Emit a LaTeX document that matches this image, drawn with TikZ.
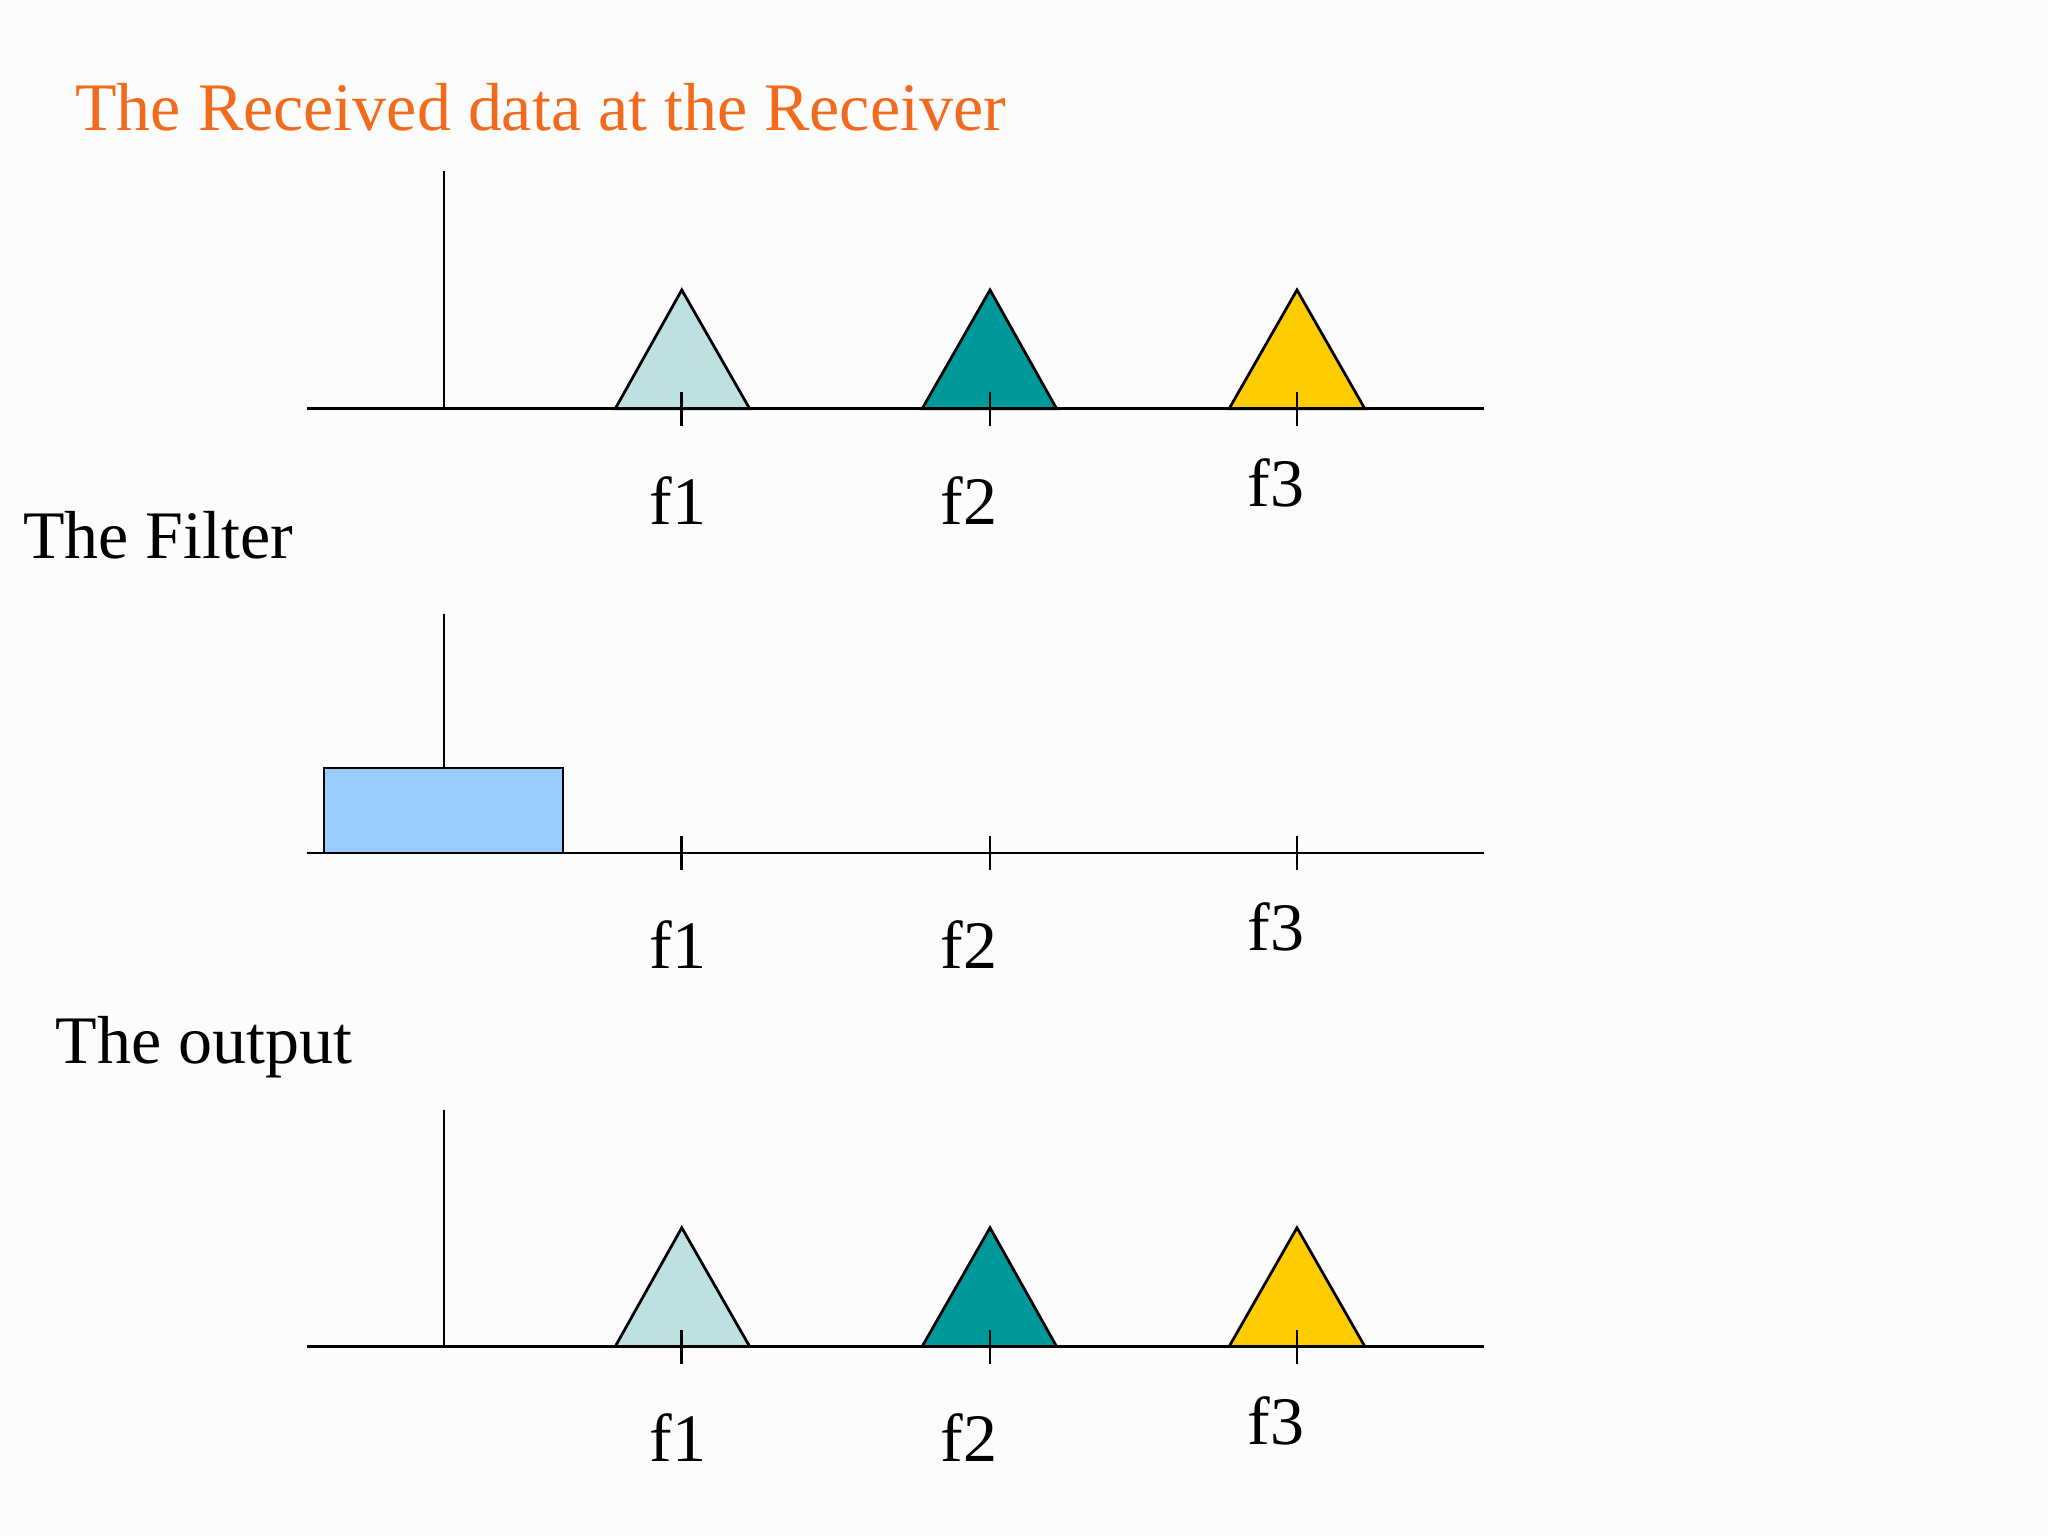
\documentclass[tikz,border=0pt]{standalone}
\usepackage{fontspec}
\setmainfont{Liberation Serif}
\definecolor{tlight}{HTML}{BDE1E1}
\definecolor{tteal}{HTML}{009999}
\definecolor{tyel}{HTML}{FFCC00}
\definecolor{torange}{HTML}{F26B1D}
\definecolor{fblue}{HTML}{99CCFF}
\begin{document}
\begin{tikzpicture}[x=0.01cm,y=-0.01cm,
  ln/.style={draw=black,line width=0.6pt},
  lab/.style={font=\fontsize{14.8}{16}\selectfont,inner sep=0pt},
  head/.style={font=\fontsize{14.8}{16}\selectfont,inner sep=0pt}]
\fill[white!99!black] (0,0) rectangle (1568,1176);
\useasboundingbox (0,0) rectangle (1568,1176);
\node[head,text=torange,anchor=west] (title) at (57,82) {The Received data at the Receiver};
\node[head,anchor=west] (filt) at (17,410) {The Filter};
\node[head,anchor=west] (outp) at (42,802) {The output};
% panel 1 and 3
\foreach \b/\v/\n in {313/131/a,1031/850/c}{
  \pgfmathsetmacro{\ap}{\b-91}
  \draw[ln,fill=tlight] (471,\b) -- (522,\ap) -- (574,\b) -- cycle;
  \draw[ln,fill=tteal] (706,\b) -- (758,\ap) -- (809,\b) -- cycle;
  \draw[ln,fill=tyel] (941,\b) -- (993,\ap) -- (1045,\b) -- cycle;
  \draw[ln] (235,\b) -- (1136,\b);
  \draw[ln] (340,\v) -- (340,\b);
  \foreach \x in {522,758,993}{\draw[ln] (\x,\b-13) -- (\x,\b+13);}
  \node[lab] (\n1) at (519,\b+70) {f1};
  \node[lab] (\n2) at (742,\b+70) {f2};
  \node[lab] (\n3) at (977,\b+57) {f3};
}
% panel 2
\draw[ln,fill=fblue] (248,588) rectangle (431,653);
\draw[ln] (235,653) -- (1136,653);
\draw[ln] (340,470) -- (340,588);
\foreach \x in {522,758,993}{\draw[ln] (\x,640) -- (\x,666);}
\node[lab] (b1) at (519,723) {f1};
\node[lab] (b2) at (742,723) {f2};
\node[lab] (b3) at (977,710) {f3};
\end{tikzpicture}
\end{document}
